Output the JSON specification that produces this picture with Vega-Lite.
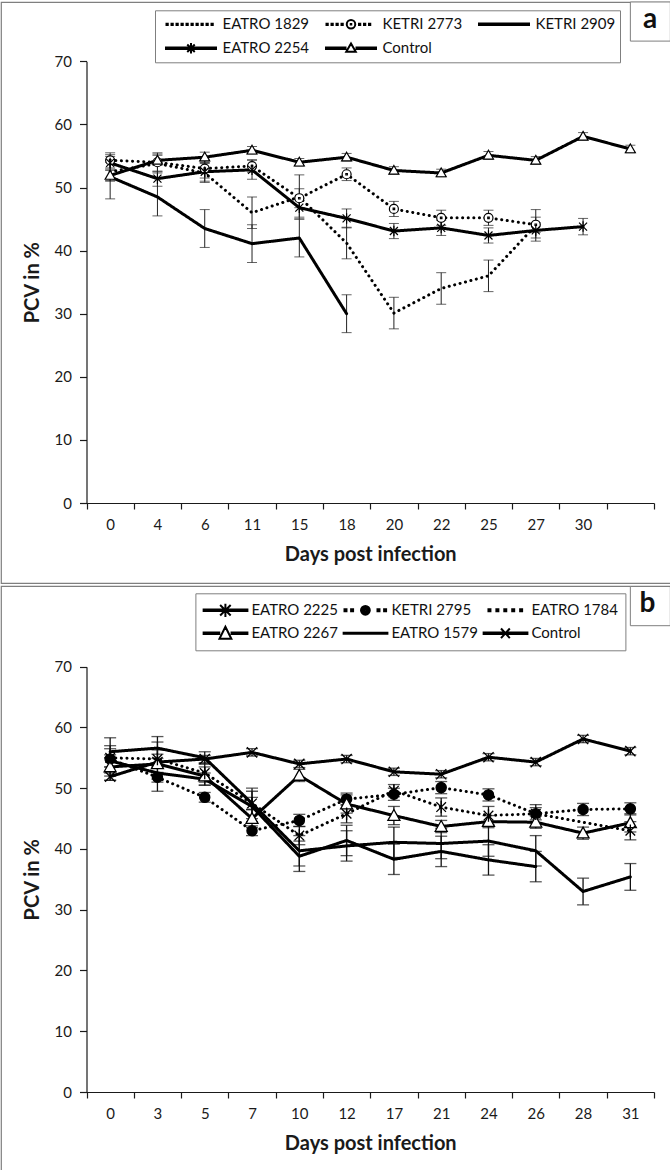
{
"$schema": "https://vega.github.io/schema/vega-lite/v6.json",
"padding": 0,
"spacing": 1,
"background": "white",
"datasets": {
"a": [
{"series":"EATRO 1829","day":"0","pcv":52.5,"sd":1.5},
{"series":"EATRO 1829","day":"4","pcv":53.8,"sd":1.5},
{"series":"EATRO 1829","day":"6","pcv":52.3,"sd":1.5},
{"series":"EATRO 1829","day":"11","pcv":46.0,"sd":2.5},
{"series":"EATRO 1829","day":"15","pcv":48.5,"sd":3.5},
{"series":"EATRO 1829","day":"18","pcv":41.2,"sd":2.5},
{"series":"EATRO 1829","day":"20","pcv":30.1,"sd":2.5},
{"series":"EATRO 1829","day":"22","pcv":34.0,"sd":2.5},
{"series":"EATRO 1829","day":"25","pcv":36.0,"sd":2.5},
{"series":"EATRO 1829","day":"27","pcv":44.0,"sd":2.5},
{"series":"KETRI 2773","day":"0","pcv":54.3,"sd":1.2},
{"series":"KETRI 2773","day":"4","pcv":54.0,"sd":1.5},
{"series":"KETRI 2773","day":"6","pcv":53.0,"sd":1.5},
{"series":"KETRI 2773","day":"11","pcv":53.4,"sd":1.0},
{"series":"KETRI 2773","day":"15","pcv":48.3,"sd":1.5},
{"series":"KETRI 2773","day":"18","pcv":52.1,"sd":1.0},
{"series":"KETRI 2773","day":"20","pcv":46.6,"sd":1.2},
{"series":"KETRI 2773","day":"22","pcv":45.2,"sd":1.2},
{"series":"KETRI 2773","day":"25","pcv":45.2,"sd":1.2},
{"series":"KETRI 2773","day":"27","pcv":44.1,"sd":1.2},
{"series":"KETRI 2909","day":"0","pcv":51.7,"sd":3.5},
{"series":"KETRI 2909","day":"4","pcv":48.5,"sd":3.0},
{"series":"KETRI 2909","day":"6","pcv":43.5,"sd":3.0},
{"series":"KETRI 2909","day":"11","pcv":41.1,"sd":3.0},
{"series":"KETRI 2909","day":"15","pcv":42.0,"sd":3.0},
{"series":"KETRI 2909","day":"18","pcv":30.0,"sd":3.0},
{"series":"EATRO 2254","day":"0","pcv":53.9,"sd":1.0},
{"series":"EATRO 2254","day":"4","pcv":51.4,"sd":1.2},
{"series":"EATRO 2254","day":"6","pcv":52.5,"sd":1.5},
{"series":"EATRO 2254","day":"11","pcv":52.8,"sd":1.5},
{"series":"EATRO 2254","day":"15","pcv":46.8,"sd":1.5},
{"series":"EATRO 2254","day":"18","pcv":45.1,"sd":1.5},
{"series":"EATRO 2254","day":"20","pcv":43.1,"sd":1.2},
{"series":"EATRO 2254","day":"22","pcv":43.6,"sd":1.2},
{"series":"EATRO 2254","day":"25","pcv":42.4,"sd":1.2},
{"series":"EATRO 2254","day":"27","pcv":43.2,"sd":1.2},
{"series":"EATRO 2254","day":"30","pcv":43.8,"sd":1.3},
{"series":"Control","day":"0","pcv":51.9,"sd":0.8},
{"series":"Control","day":"4","pcv":54.3,"sd":0.8},
{"series":"Control","day":"6","pcv":54.8,"sd":0.8},
{"series":"Control","day":"11","pcv":55.9,"sd":0.6},
{"series":"Control","day":"15","pcv":54.0,"sd":0.6},
{"series":"Control","day":"18","pcv":54.8,"sd":0.6},
{"series":"Control","day":"20","pcv":52.7,"sd":0.6},
{"series":"Control","day":"22","pcv":52.3,"sd":0.6},
{"series":"Control","day":"25","pcv":55.1,"sd":0.6},
{"series":"Control","day":"27","pcv":54.3,"sd":0.6},
{"series":"Control","day":"30","pcv":58.1,"sd":0.6},
{"series":"Control","day":"","pcv":56.1,"sd":0.6}
],
"b": [
{"series":"Control","day":"0","pcv":51.9,"sd":0.6},
{"series":"Control","day":"3","pcv":54.3,"sd":0.6},
{"series":"Control","day":"5","pcv":54.8,"sd":0.6},
{"series":"Control","day":"7","pcv":55.9,"sd":0.6},
{"series":"Control","day":"10","pcv":54.0,"sd":0.6},
{"series":"Control","day":"12","pcv":54.8,"sd":0.6},
{"series":"Control","day":"17","pcv":52.7,"sd":0.6},
{"series":"Control","day":"21","pcv":52.3,"sd":0.6},
{"series":"Control","day":"24","pcv":55.1,"sd":0.6},
{"series":"Control","day":"26","pcv":54.3,"sd":0.6},
{"series":"Control","day":"28","pcv":58.1,"sd":0.6},
{"series":"Control","day":"31","pcv":56.1,"sd":0.6},
{"series":"KETRI 2795","day":"0","pcv":54.8,"sd":3.5},
{"series":"KETRI 2795","day":"3","pcv":51.8,"sd":0.8},
{"series":"KETRI 2795","day":"5","pcv":48.5,"sd":0.8},
{"series":"KETRI 2795","day":"7","pcv":43.0,"sd":0.8},
{"series":"KETRI 2795","day":"10","pcv":44.7,"sd":1.0},
{"series":"KETRI 2795","day":"12","pcv":48.2,"sd":1.0},
{"series":"KETRI 2795","day":"17","pcv":49.0,"sd":1.0},
{"series":"KETRI 2795","day":"21","pcv":50.1,"sd":1.0},
{"series":"KETRI 2795","day":"24","pcv":48.9,"sd":1.0},
{"series":"KETRI 2795","day":"26","pcv":45.8,"sd":1.0},
{"series":"KETRI 2795","day":"28","pcv":46.5,"sd":1.0},
{"series":"KETRI 2795","day":"31","pcv":46.6,"sd":1.0},
{"series":"EATRO 1784","day":"0","pcv":56.0,"sd":1.0},
{"series":"EATRO 1784","day":"3","pcv":56.6,"sd":1.0},
{"series":"EATRO 1784","day":"5","pcv":55.0,"sd":1.0},
{"series":"EATRO 1784","day":"7","pcv":47.5,"sd":1.0},
{"series":"EATRO 1784","day":"10","pcv":39.7,"sd":2.5},
{"series":"EATRO 1784","day":"12","pcv":40.5,"sd":2.5},
{"series":"EATRO 1784","day":"17","pcv":41.1,"sd":2.5},
{"series":"EATRO 1784","day":"21","pcv":40.9,"sd":2.5},
{"series":"EATRO 1784","day":"24","pcv":41.3,"sd":2.5},
{"series":"EATRO 1784","day":"26","pcv":39.7,"sd":2.5},
{"series":"EATRO 1784","day":"28","pcv":33.0,"sd":2.2},
{"series":"EATRO 1784","day":"31","pcv":35.4,"sd":2.2},
{"series":"EATRO 2267","day":"0","pcv":53.5,"sd":1.5},
{"series":"EATRO 2267","day":"3","pcv":54.0,"sd":4.5},
{"series":"EATRO 2267","day":"5","pcv":52.0,"sd":1.5},
{"series":"EATRO 2267","day":"7","pcv":45.0,"sd":1.5},
{"series":"EATRO 2267","day":"10","pcv":52.1,"sd":1.0},
{"series":"EATRO 2267","day":"12","pcv":47.4,"sd":1.5},
{"series":"EATRO 2267","day":"17","pcv":45.5,"sd":1.5},
{"series":"EATRO 2267","day":"21","pcv":43.7,"sd":1.0},
{"series":"EATRO 2267","day":"24","pcv":44.5,"sd":1.0},
{"series":"EATRO 2267","day":"26","pcv":44.4,"sd":1.0},
{"series":"EATRO 2267","day":"28","pcv":42.6,"sd":1.0},
{"series":"EATRO 2267","day":"31","pcv":44.3,"sd":1.5},
{"series":"EATRO 2225","day":"0","pcv":55.0,"sd":1.5},
{"series":"EATRO 2225","day":"3","pcv":54.8,"sd":1.5},
{"series":"EATRO 2225","day":"5","pcv":52.5,"sd":1.5},
{"series":"EATRO 2225","day":"7","pcv":47.5,"sd":2.5},
{"series":"EATRO 2225","day":"10","pcv":42.2,"sd":1.5},
{"series":"EATRO 2225","day":"12","pcv":45.8,"sd":1.5},
{"series":"EATRO 2225","day":"17","pcv":49.6,"sd":1.0},
{"series":"EATRO 2225","day":"21","pcv":46.9,"sd":1.5},
{"series":"EATRO 2225","day":"24","pcv":45.5,"sd":1.5},
{"series":"EATRO 2225","day":"26","pcv":45.8,"sd":1.5},
{"series":"EATRO 2225","day":"31","pcv":43.0,"sd":1.5},
{"series":"EATRO 1579","day":"0","pcv":54.5,"sd":1.0},
{"series":"EATRO 1579","day":"3","pcv":52.5,"sd":1.0},
{"series":"EATRO 1579","day":"5","pcv":51.5,"sd":1.0},
{"series":"EATRO 1579","day":"7","pcv":47.0,"sd":2.5},
{"series":"EATRO 1579","day":"10","pcv":38.8,"sd":2.5},
{"series":"EATRO 1579","day":"12","pcv":41.4,"sd":2.5},
{"series":"EATRO 1579","day":"17","pcv":38.3,"sd":2.5},
{"series":"EATRO 1579","day":"21","pcv":39.6,"sd":2.5},
{"series":"EATRO 1579","day":"24","pcv":38.2,"sd":2.5},
{"series":"EATRO 1579","day":"26","pcv":37.1,"sd":2.5}
]
},
"vconcat": [
{
"width": 670,
"height": 581,
"data": {"name": "a"},
"encoding": {
"x": {"field": "day", "type": "ordinal", "sort": ["0","4","6","11","15","18","20","22","25","27","30",""],
"scale": {"type": "band", "domain": ["0","4","6","11","15","18","20","22","25","27","30",""], "range": [85.5, 653], "paddingInner": 0, "paddingOuter": 0},
"axis": {"title": "Days post infection", "offset": -80, "tickBand": "extent", "tickSize": 6, "labelPadding": 8, "labelAngle": 0, "titlePadding": 12}},
"y": {"field": "pcv", "type": "quantitative",
"scale": {"domain": [0, 70], "range": [501, 59.3], "nice": false},
"axis": {"title": "PCV in %", "offset": -85.5, "values": [0,10,20,30,40,50,60,70], "tickSize": 7, "labelPadding": 8, "titlePadding": 12}}
},
"layer": [
{"mark": {"type": "errorbar", "ticks": {"size": 10}, "color": "#222", "thickness": 1},
"encoding": {"yError": {"field": "sd"}}},
{"mark": {"type": "line", "color": "black", "strokeCap": "round", "strokeJoin": "round"},
"encoding": {
"strokeDash": {"field": "series", "type": "nominal", "scale": {"domain": ["EATRO 1829","KETRI 2773","KETRI 2909","EATRO 2254","Control"], "range": [[0.1,5.5],[0.1,5.5],[1,0],[1,0],[1,0]]}, "legend": null},
"strokeWidth": {"field": "series", "type": "nominal", "scale": {"domain": ["EATRO 1829","KETRI 2773","KETRI 2909","EATRO 2254","Control"], "range": [3,3,3,3.5,3.5]}, "legend": null}
}},
{"transform": [{"filter": {"field": "series", "oneOf": ["KETRI 2773","EATRO 2254","Control"]}}],
"mark": {"type": "point", "filled": true, "fill": "white", "stroke": "black", "strokeWidth": 1.2, "size": 100, "opacity": 1},
"encoding": {"shape": {"field": "series", "type": "nominal", "legend": null,
"scale": {"domain": ["EATRO 1829","KETRI 2773","KETRI 2909","EATRO 2254","Control"],
"range": ["M0,0", "M0.9,0A0.9,0.9,0,1,1,-0.9,0A0.9,0.9,0,1,1,0.9,0ZM-0.15,-0.15h0.3v0.3h-0.3z", "M0,0", "M-0.8,-0.8L0.8,0.8M-0.8,0.8L0.8,-0.8M0,-1.05V1.05", "M0,-1L1,0.75H-1Z"]}}}},
{"mark": {"type": "point", "filled": false, "color": "black", "opacity": 0},
"encoding": {"shape": {"field": "series", "type": "nominal",
"scale": {"domain": ["EATRO 1829","KETRI 2773","KETRI 2909","EATRO 2254","Control"],
"range": [
"M-0.98,-0.025h0.05v0.05h-0.05zM-0.78,-0.025h0.05v0.05h-0.05zM-0.58,-0.025h0.05v0.05h-0.05zM-0.38,-0.025h0.05v0.05h-0.05zM-0.18,-0.025h0.05v0.05h-0.05zM0.02,-0.025h0.05v0.05h-0.05zM0.22,-0.025h0.05v0.05h-0.05zM0.42,-0.025h0.05v0.05h-0.05zM0.62,-0.025h0.05v0.05h-0.05zM0.82,-0.025h0.05v0.05h-0.05z",
"M-0.98,-0.025h0.05v0.05h-0.05zM-0.78,-0.025h0.05v0.05h-0.05zM-0.58,-0.025h0.05v0.05h-0.05zM-0.38,-0.025h0.05v0.05h-0.05zM0.17,0A0.17,0.17,0,1,1,-0.17,0A0.17,0.17,0,1,1,0.17,0ZM-0.01,-0.01h0.02v0.02h-0.02zM0.32,-0.025h0.05v0.05h-0.05zM0.52,-0.025h0.05v0.05h-0.05zM0.72,-0.025h0.05v0.05h-0.05z",
"M-1,-0.03H1V0.03H-1Z",
"M-1,-0.03H1V0.03H-1ZM-0.15,-0.15L0.15,0.15M-0.15,0.15L0.15,-0.15M0,-0.21V0.21",
"M-1,-0.03H-0.22V0.03H-1ZM0.22,-0.03H1V0.03H0.22ZM0,-0.19L0.19,0.14H-0.19Z"
]},
"legend": {"title": null, "orient": "none", "legendX": 154, "legendY": 8.3, "columns": 3, "direction": "horizontal",
"symbolSize": 2500, "symbolStrokeWidth": 2, "symbolStrokeColor": "black", "symbolFillColor": "transparent", "symbolOpacity": 1,
"labelFont": "Lato", "labelFontSize": 15, "labelColor": "#111", "labelOffset": 5.5, "symbolOffset": 6, "columnPadding": 9, "rowPadding": 4,
"padding": 4, "clipHeight": 20, "strokeColor": "#7f7f7f", "fillColor": "white", "labelLimit": 200}}}},
{"transform": [{"filter": "datum.series === 'Control' && datum.day === '0'"}],
"mark": {"type": "rect", "fill": "white", "stroke": "#7f7f7f", "strokeWidth": 1, "width": 40, "xOffset": 67.3},
"encoding": {"x": {"datum": "30"}, "y": {"datum": 73.2}, "y2": {"datum": 79.4}}},
{"transform": [{"filter": "datum.series === 'Control' && datum.day === '0'"}],
"mark": {"type": "text", "font": "Lato", "fontWeight": "bold", "fontSize": 28, "xOffset": 67, "baseline": "middle", "align": "center", "color": "#111"},
"encoding": {"x": {"datum": "30"}, "y": {"datum": 76.6}, "text": {"value": "a"}}}
],
"resolve": {"scale": {"shape": "independent"}}
},
{
"width": 670,
"height": 587,
"data": {"name": "b"},
"encoding": {
"x": {"field": "day", "type": "ordinal", "sort": ["0","3","5","7","10","12","17","21","24","26","28","31"],
"scale": {"type": "band", "domain": ["0","3","5","7","10","12","17","21","24","26","28","31"], "range": [85.5, 653], "paddingInner": 0, "paddingOuter": 0},
"axis": {"title": "Days post infection", "offset": -81, "tickBand": "extent", "tickSize": 6, "labelPadding": 8, "labelAngle": 0, "titlePadding": 12}},
"y": {"field": "pcv", "type": "quantitative",
"scale": {"domain": [0, 70], "range": [506, 80.7], "nice": false},
"axis": {"title": "PCV in %", "offset": -85.5, "values": [0,10,20,30,40,50,60,70], "tickSize": 7, "labelPadding": 8, "titlePadding": 12}}
},
"layer": [
{"mark": {"type": "errorbar", "ticks": {"size": 12}, "color": "#111", "thickness": 1.3},
"encoding": {"yError": {"field": "sd"}}},
{"mark": {"type": "line", "color": "black", "strokeCap": "round", "strokeJoin": "round"},
"encoding": {
"strokeDash": {"field": "series", "type": "nominal", "scale": {"domain": ["EATRO 2225","KETRI 2795","EATRO 1784","EATRO 2267","EATRO 1579","Control"], "range": [[1,0],[0.1,7],[0.1,7],[1,0],[1,0],[1,0]]}, "legend": null},
"strokeWidth": {"field": "series", "type": "nominal", "scale": {"domain": ["EATRO 2225","KETRI 2795","EATRO 1784","EATRO 2267","EATRO 1579","Control"], "range": [3,4,4,3,2.5,3]}, "legend": null}
}},
{"transform": [{"filter": {"field": "series", "oneOf": ["EATRO 2225","KETRI 2795","EATRO 2267","Control"]}}],
"mark": {"type": "point", "filled": true, "stroke": "black", "strokeWidth": 1.3, "size": 144, "opacity": 1},
"encoding": {
"shape": {"field": "series", "type": "nominal", "legend": null,
"scale": {"domain": ["EATRO 2225","KETRI 2795","EATRO 1784","EATRO 2267","EATRO 1579","Control"],
"range": ["M-0.8,-0.8L0.8,0.8M-0.8,0.8L0.8,-0.8M0,-1.05V1.05", "M0.85,0A0.85,0.85,0,1,1,-0.85,0A0.85,0.85,0,1,1,0.85,0Z", "M0,0", "M0,-1L1,0.8H-1Z", "M0,0", "M-0.85,-0.85L0.85,0.85M-0.85,0.85L0.85,-0.85"]}},
"fill": {"field": "series", "type": "nominal", "legend": null,
"scale": {"domain": ["EATRO 2225","KETRI 2795","EATRO 1784","EATRO 2267","EATRO 1579","Control"], "range": ["white","black","white","white","white","white"]}}
}},
{"mark": {"type": "point", "filled": false, "color": "black", "opacity": 0},
"encoding": {"shape": {"field": "series", "type": "nominal",
"scale": {"domain": ["EATRO 2225","KETRI 2795","EATRO 1784","EATRO 2267","EATRO 1579","Control"],
"range": [
"M-1,-0.034H1V0.034H-1ZM-0.24,-0.24L0.24,0.24M-0.24,0.24L0.24,-0.24M0,-0.3V0.3",
"M-0.95,-0.045h0.09v0.09h-0.09zM-0.65,-0.045h0.09v0.09h-0.09zM0.2,0A0.2,0.2,0,1,1,-0.2,0A0.2,0.2,0,1,1,0.2,0ZM0.12,0A0.12,0.12,0,1,1,-0.12,0A0.12,0.12,0,1,1,0.12,0ZM0.04,0A0.04,0.04,0,1,1,-0.04,0A0.04,0.04,0,1,1,0.04,0ZM0.55,-0.045h0.09v0.09h-0.09zM0.85,-0.045h0.09v0.09h-0.09z",
"M-0.77,-0.045h0.09v0.09h-0.09zM-0.41,-0.045h0.09v0.09h-0.09zM-0.05,-0.045h0.09v0.09h-0.09zM0.31,-0.045h0.09v0.09h-0.09zM0.67,-0.045h0.09v0.09h-0.09z",
"M-1,-0.034H-0.28V0.034H-1ZM0.28,-0.034H1V0.034H0.28ZM0,-0.3L0.27,0.25H-0.27Z",
"M-1,-0.025H1V0.025H-1Z",
"M-1,-0.034H1V0.034H-1ZM-0.2,-0.22L0.2,0.22M-0.2,0.22L0.2,-0.22"
]},
"legend": {"title": null, "orient": "none", "legendX": 194.4, "legendY": 7.3, "columns": 3, "direction": "horizontal",
"symbolSize": 1936, "symbolStrokeWidth": 2, "symbolStrokeColor": "black", "symbolFillColor": "transparent", "symbolOpacity": 1,
"labelFont": "Lato", "labelFontSize": 15, "labelColor": "#111", "labelOffset": 3, "symbolOffset": 0, "columnPadding": 4, "rowPadding": 3,
"padding": 7, "clipHeight": 20, "strokeColor": "#7f7f7f", "fillColor": "white", "labelLimit": 200}}}},
{"transform": [{"filter": "datum.series === 'Control' && datum.day === '0'"}],
"mark": {"type": "rect", "fill": "white", "stroke": "#7f7f7f", "strokeWidth": 1, "width": 40, "xOffset": 20},
"encoding": {"x": {"datum": "31"}, "y": {"datum": 76.75}, "y2": {"datum": 83.2}}},
{"transform": [{"filter": "datum.series === 'Control' && datum.day === '0'"}],
"mark": {"type": "text", "font": "Lato", "fontWeight": "bold", "fontSize": 28, "xOffset": 17, "baseline": "middle", "align": "center", "color": "#111"},
"encoding": {"x": {"datum": "31"}, "y": {"datum": 80.3}, "text": {"value": "b"}}}
],
"resolve": {"scale": {"shape": "independent"}}
}
],
"config": {
"view": {"stroke": "#7f7f7f", "strokeWidth": 1.2, "fill": "white"},
"font": "Lato",
"axis": {"domainColor": "#1a1a1a", "domainWidth": 1.2, "tickColor": "#1a1a1a", "tickWidth": 1.2, "labelFont": "Lato", "labelFontSize": 15, "labelColor": "#1a1a1a", "titleFont": "Lato", "titleFontSize": 20, "titleFontWeight": "bold", "titleColor": "#1a1a1a", "grid": false}
}
}
